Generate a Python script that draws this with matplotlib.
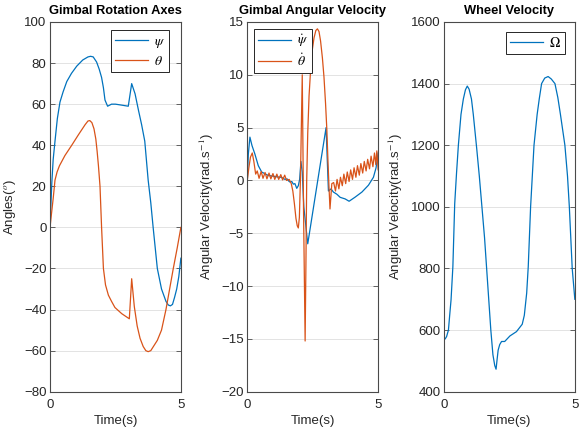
import matplotlib

matplotlib.use("Agg")
import matplotlib.pyplot as plt

# Gimbal rotation angles (deg)
t_psi = [0, 0.03, 0.07, 0.12, 0.19, 0.28, 0.38, 0.5, 0.64, 0.82, 1.02, 1.25, 1.45,
         1.55, 1.65, 1.78, 1.88, 1.97, 2.04, 2.1, 2.2, 2.35, 2.5, 2.75, 2.99, 3.12,
         3.25, 3.38, 3.5, 3.62, 3.75, 3.85, 3.94, 4.02, 4.1, 4.26, 4.43, 4.52, 4.6,
         4.68, 4.76, 4.84, 4.92, 5.0]
psi = [0, 10, 22, 33, 42, 53, 61, 66, 71, 75, 78.5, 81.5, 83, 83.3, 83, 80.5, 77,
       73, 68, 62, 59, 60, 60, 59.5, 59, 70, 65, 57, 50, 42, 23, 12, 0, -10, -20,
       -30, -36, -37.8, -38.2, -37.5, -34, -30, -24, -15]

t_theta = [0, 0.05, 0.12, 0.19, 0.27, 0.36, 0.57, 0.83, 1.08, 1.34, 1.45, 1.52, 1.6,
           1.68, 1.75, 1.8, 1.85, 1.91, 1.97, 2.04, 2.12, 2.23, 2.35, 2.48, 2.74,
           3.03, 3.12, 3.22, 3.33, 3.44, 3.56, 3.66, 3.75, 3.85, 3.95, 4.1, 4.26,
           4.43, 4.57, 4.71, 4.86, 5.0]
theta = [0, 6, 14, 23, 27, 30, 35, 40, 45, 50, 51.8, 52, 51, 48, 43, 37, 30, 20, 0,
         -20, -28, -33, -36, -39, -42, -44.5, -25, -38.5, -48, -54, -58, -60, -60.5,
         -60, -58, -55, -50, -40, -30, -20, -10, 0]

# Gimbal angular velocities (rad/s)
t_dpsi = [0, 0.04, 0.1, 0.18, 0.29, 0.42, 0.55, 0.8, 1.0, 1.19, 1.3, 1.44, 1.52,
          1.58, 1.63, 1.7, 1.76, 1.82, 1.89, 1.95, 2.0, 2.05, 2.1, 2.16, 2.31, 3.01,
          3.1, 3.2, 3.29, 3.42, 3.55, 3.74, 3.89, 4.12, 4.38, 4.63, 4.82, 4.92, 5.0]
dpsi = [0, 2.5, 4.1, 3.3, 2.5, 1.4, 0.8, 0.47, 0.4, 0.32, 0.3, 0.1, 0.15, -0.05,
        -0.15, -0.1, -0.35, -0.3, -0.75, -0.5, 0.1, 1.8, 0.8, -2.5, -6.0, 5.0, -1.0,
        -0.8, -1.1, -1.3, -1.6, -1.75, -1.97, -1.58, -1.1, -0.45, 0.3, 1.2, 2.6]

t_dtheta = [0, 0.06, 0.12, 0.19, 0.25, 0.32, 0.38, 0.45, 0.53, 0.6, 0.68, 0.75, 0.83,
            0.9, 0.98, 1.05, 1.13, 1.2, 1.28, 1.35, 1.43, 1.5, 1.6, 1.68, 1.74, 1.8,
            1.86, 1.91, 1.95, 1.99, 2.03, 2.1, 2.15, 2.21, 2.24, 2.27, 2.31, 2.36,
            2.42, 2.48, 2.55, 2.62, 2.68, 2.74, 2.8, 2.87, 2.93, 2.99, 3.04, 3.08,
            3.12, 3.16, 3.23, 3.3, 3.37, 3.43, 3.5, 3.56, 3.63, 3.69, 3.76, 3.82,
            3.89, 3.95, 4.02, 4.08, 4.15, 4.21, 4.28, 4.34, 4.41, 4.47, 4.54, 4.6,
            4.67, 4.73, 4.8, 4.86, 4.91, 4.95, 5.0]
dtheta = [0, 1.2, 2.2, 2.6, 1.8, 0.6, 0.9, 0.2, 0.85, 0.2, 0.75, 0.15, 0.7, 0.15,
          0.65, 0.1, 0.6, 0.1, 0.55, 0.05, 0.5, 0.0, 0.1, -0.3, -1.0, -2.2, -3.6,
          -4.3, -4.5, -3.5, 0.0, 10.0, -3.0, -15.2, -8.0, 0.0, 4.5, 8.0, 10.5,
          12.3, 13.5, 14.2, 14.35, 14.1, 13.2, 11.6, 9.8, 7.3, 4.8, 2.0, -0.5,
          -2.7, -0.3, -0.2, -1.0, 0.1, -0.8, 0.3, -0.5, 0.6, -0.3, 0.8, -0.1, 1.0,
          0.1, 1.2, 0.3, 1.4, 0.5, 1.6, 0.7, 1.8, 0.9, 2.0, 1.1, 2.3, 1.3, 2.6, 1.5,
          2.8, 1.0]

# Reaction wheel speed (rad/s)
t_omega = [0, 0.05, 0.1, 0.17, 0.22, 0.27, 0.34, 0.41, 0.48, 0.55, 0.65, 0.74, 0.82,
           0.89, 0.96, 1.05, 1.12, 1.25, 1.35, 1.45, 1.55, 1.63, 1.71, 1.79, 1.87,
           1.94, 1.99, 2.03, 2.07, 2.13, 2.2, 2.32, 2.52, 2.77, 2.99, 3.07, 3.16,
           3.22, 3.31, 3.44, 3.56, 3.64, 3.73, 3.85, 3.98, 4.1, 4.24, 4.35, 4.45,
           4.62, 4.72, 4.79, 4.9, 5.0]
omega = [568, 572, 579, 600, 650, 698, 806, 1010, 1110, 1200, 1300, 1350, 1380,
         1392, 1382, 1350, 1300, 1190, 1100, 1000, 900, 800, 700, 600, 520, 485,
         473, 505, 535, 553, 563, 563, 581, 595, 619, 648, 720, 806, 1000, 1200,
         1300, 1350, 1400, 1418, 1423, 1415, 1400, 1355, 1300, 1200, 1100, 1000,
         800, 700]

BLUE = "#0072BD"
ORANGE = "#D95319"
INK = "#262626"

plt.rcParams["font.family"] = ["Liberation Sans", "DejaVu Sans"]
plt.rcParams["mathtext.fontset"] = "stix"
plt.rcParams["font.size"] = 9

fig = plt.figure(figsize=(5.79, 4.28), dpi=100)
fig.patch.set_facecolor("white")

lefts = [0.0864, 0.4271, 0.7668]
axes = [fig.add_axes([l, 0.0848, 0.226, 0.8638]) for l in lefts]


def style(ax, ylim, yticks):
    ax.set_xlim(0, 5)
    ax.set_ylim(*ylim)
    ax.set_xticks([0, 5])
    ax.set_yticks(yticks)
    ax.grid(True, color="#e3e3e3", linewidth=0.7)
    ax.set_axisbelow(True)
    for sp in ax.spines.values():
        sp.set_color("#4a4a4a")
        sp.set_linewidth(0.8)
    ax.tick_params(direction="in", length=3.5, width=0.6, colors="#4a4a4a",
                   labelcolor=INK, top=True, right=True, labelsize=9.5)
    ax.tick_params(axis="x", pad=5)
    ax.tick_params(axis="y", pad=2.5)
    ax.set_xlabel("Time(s)", color=INK, fontsize=9.5, labelpad=3)


def legend(ax, anchor, loc):
    lg = ax.legend(loc=loc, bbox_to_anchor=anchor, borderaxespad=0, fancybox=False,
                   framealpha=1, edgecolor=INK, handlelength=2.4, fontsize=10,
                   borderpad=0.3, labelspacing=0.25, handletextpad=0.4)
    lg.get_frame().set_linewidth(0.7)


ax1, ax2, ax3 = axes

ax1.plot(t_psi, psi, color=BLUE, lw=0.9, label=r"$\psi$")
ax1.plot(t_theta, theta, color=ORANGE, lw=0.9, label=r"$\theta$")
style(ax1, (-80, 100), range(-80, 101, 20))
ax1.set_title("Gimbal Rotation Axes", fontweight="bold", fontsize=9.3, pad=5.5)
ax1.set_ylabel(r"Angles($^{o}$)", color=INK, fontsize=9.5)
legend(ax1, (0.911, 0.978), "upper right")

ax2.plot(t_dpsi, dpsi, color=BLUE, lw=0.9, label=r"$\dot{\psi}$")
ax2.plot(t_dtheta, dtheta, color=ORANGE, lw=0.9, label=r"$\dot{\theta}$")
style(ax2, (-20, 15), range(-20, 16, 5))
ax2.set_title("Gimbal Angular Velocity", fontweight="bold", fontsize=9.3, pad=5.5)
ax2.set_ylabel(r"Angular Velocity(rad.s$^{-1}$)", color=INK, fontsize=9.5)
legend(ax2, (0.051, 0.981), "upper left")

ax3.plot(t_omega, omega, color=BLUE, lw=0.9, label=r"$\Omega$")
style(ax3, (400, 1600), range(400, 1601, 200))
ax3.set_title("Wheel Velocity", fontweight="bold", fontsize=9.3, pad=5.5)
ax3.set_ylabel(r"Angular Velocity(rad.s$^{-1}$)", color=INK, fontsize=9.5)
legend(ax3, (0.924, 0.973), "upper right")

fig.savefig("out.png", dpi=100, facecolor="white")
